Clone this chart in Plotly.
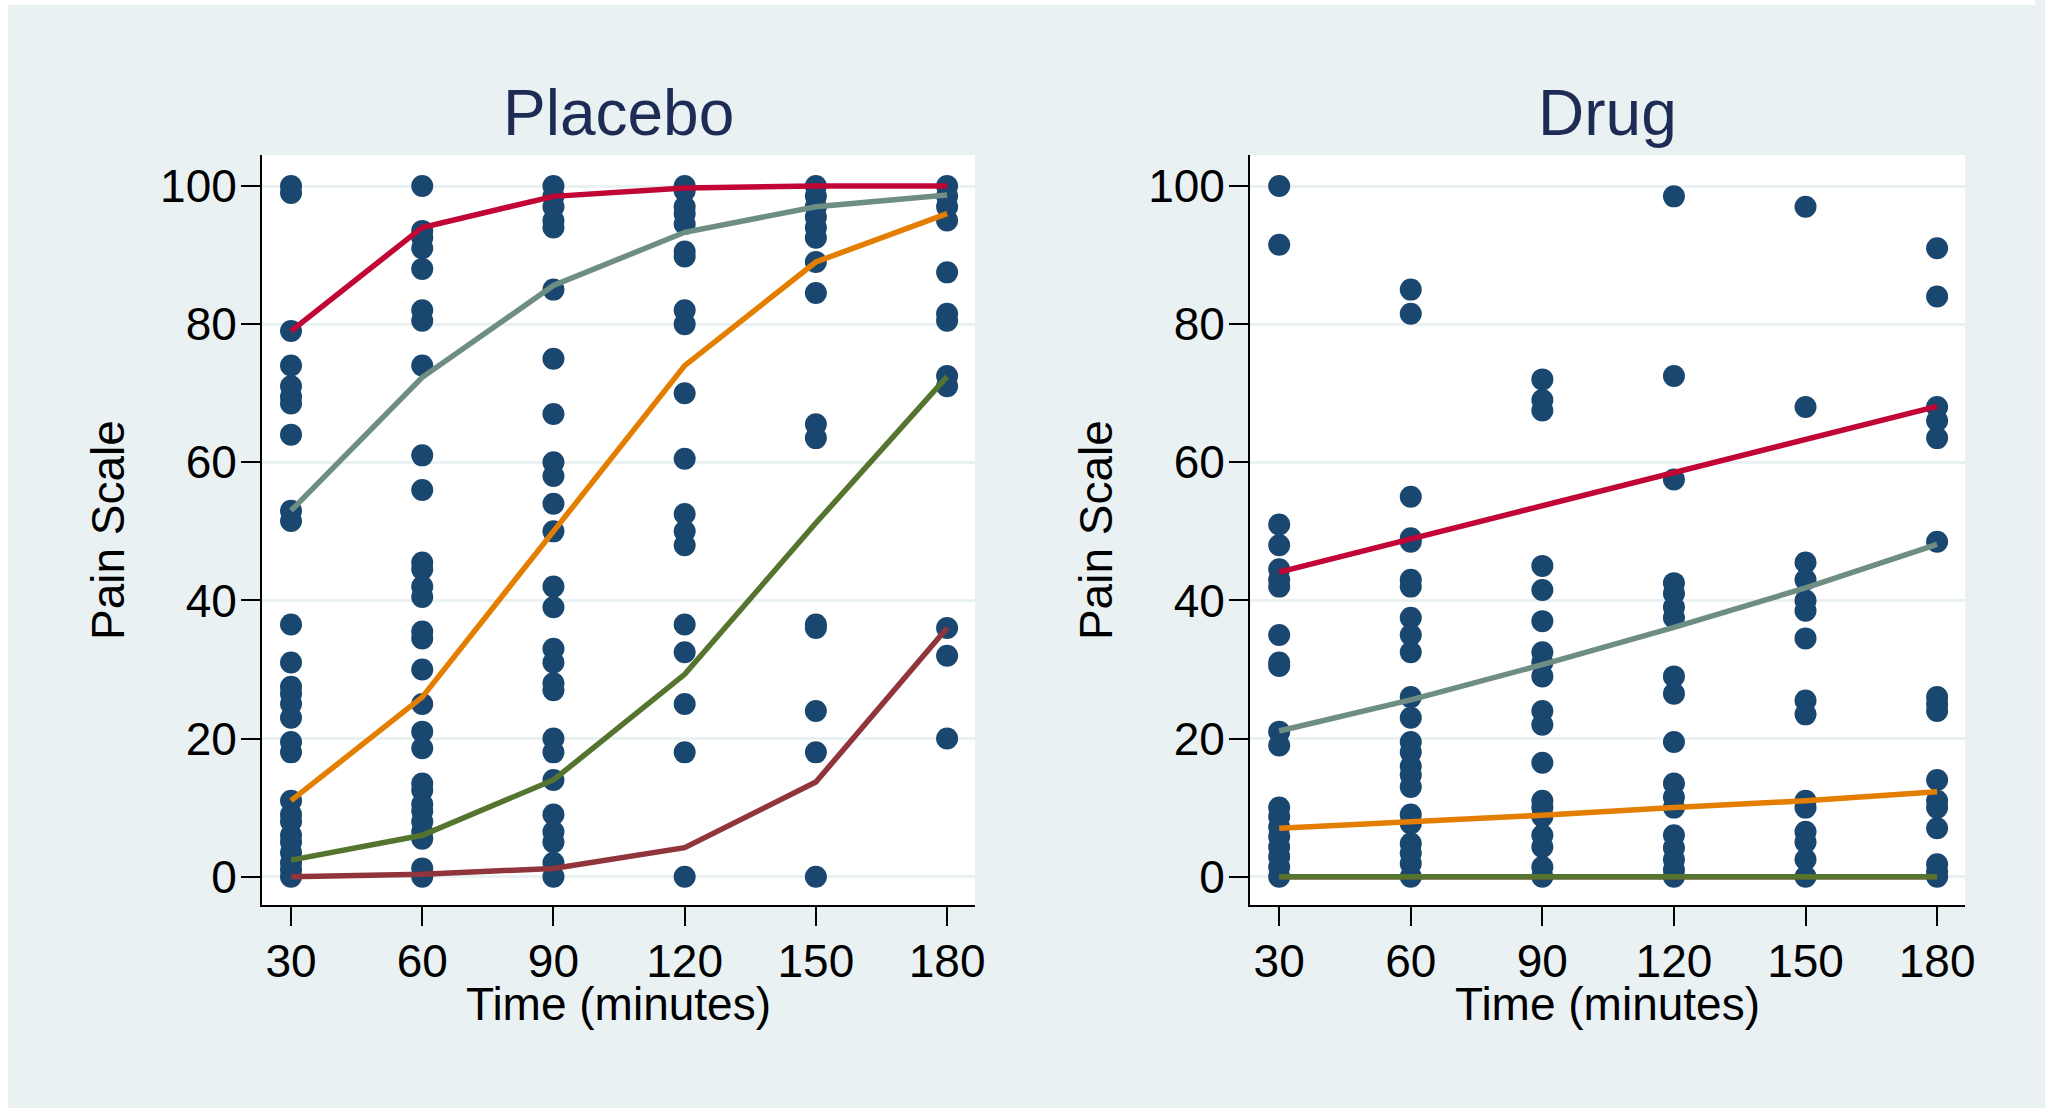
import plotly.graph_objects as go

# ---------------- data ----------------
times = [30, 60, 90, 120, 150, 180]
panel_titles = ["Placebo", "Drug"]
x_title = "Time (minutes)"
y_title = "Pain Scale"
y_ticks = [0, 20, 40, 60, 80, 100]

placebo_30 = [100, 99, 79, 74, 71, 69.5, 68.5, 64, 53, 51.5, 36.5, 31, 27.5, 26.5, 25, 23,
              19.5, 18, 11, 9, 8, 6, 5, 3.5, 2, 1, 0]
placebo_60 = [100, 93.5, 92.5, 91, 88, 82, 80.5, 74, 61, 56, 45.5, 44.5, 42, 40.5, 35.5, 34.5,
              30, 25, 21, 18.6, 13.5, 12.5, 10.5, 9.5, 8, 6.5, 5.5, 1.2, 0]
placebo_90 = [100, 98.5, 97, 95, 94, 85, 75, 67, 60, 58, 54, 50, 42, 39, 33, 31, 28, 27,
              20, 18, 14, 9, 6.5, 5, 2, 0]
placebo_120 = [100, 99.3, 97, 96, 94.5, 90.5, 89.8, 82, 80, 70, 60.5, 52.5, 50, 48, 36.5,
               32.5, 25, 18, 0]
placebo_150 = [100, 98.5, 97, 95.5, 94, 92.5, 89, 84.5, 65.5, 63.5, 36.5, 36, 24, 18, 0]
placebo_180 = [100, 98.5, 97, 95, 87.5, 81.5, 80.5, 72.5, 71, 36, 32, 20]

drug_30 = [100, 91.5, 51, 48, 44.5, 43, 42, 35, 31, 30.5, 21, 19, 10, 8.7, 7.2, 5.8, 4.3,
           2.9, 1.4, 0]
drug_60 = [85, 81.5, 55, 49, 48.5, 43, 42, 37.5, 35, 32.5, 26, 23, 19.5, 18, 16, 14.7, 13,
           9, 7.7, 4.8, 3.4, 1.9, 0]
drug_90 = [72, 69, 67.5, 45, 41.5, 37, 32.5, 31, 29, 24, 22, 16.5, 11, 10, 8.7, 6, 4.3, 1.4, 0]
drug_120 = [98.5, 72.5, 57.5, 42.5, 41, 39, 37.5, 29, 26.5, 19.5, 13.5, 11.5, 10, 6, 4.2,
            2.5, 1, 0]
drug_150 = [97, 68, 45.5, 43, 40, 38.5, 34.5, 25.5, 23.5, 11, 10, 6.5, 5, 2.5, 0]
drug_180 = [91, 84, 68, 66, 63.5, 48.5, 26, 25, 24, 14, 11, 10, 7, 1.8, 0.7, 0]

placebo_points = [placebo_30, placebo_60, placebo_90, placebo_120, placebo_150, placebo_180]
drug_points = [drug_30, drug_60, drug_90, drug_120, drug_150, drug_180]

# fitted trajectories (one line per group)
placebo_cranberry = [79, 94, 98.5, 99.7, 100, 100]
placebo_teal = [53, 72.3, 85.6, 93.3, 97, 98.7]
placebo_orange = [11, 26, 50, 74, 89, 96]
placebo_green = [2.4, 6, 14, 29.3, 51.2, 72.4]
placebo_maroon = [0, 0.35, 1.2, 4.2, 13.7, 36]

drug_cranberry = [44.1, 48.9, 53.8, 58.7, 63.4, 68.1]
drug_teal = [21.1, 25.6, 30.7, 36.1, 41.8, 48.1]
drug_orange = [7, 7.9, 8.9, 10, 11, 12.3]
drug_green = [0, 0, 0, 0, 0, 0]
drug_maroon = [0, 0, 0, 0, 0, 0]

placebo_lines = [placebo_maroon, placebo_green, placebo_orange, placebo_teal, placebo_cranberry]
drug_lines = [drug_maroon, drug_green, drug_orange, drug_teal, drug_cranberry]
line_order_colors = ["#90353B", "#55752F", "#E37E00", "#6E8E84", "#C10534"]

# ---------------- figure ----------------
W, H = 2045, 1108
XK = 1.005  # small horizontal compensation
BG = "#E9F1F3"
GRID = "#E9F1F3"
NAVY = "#1A476F"
FONT = "Liberation Sans, Arial, sans-serif"

fig = go.Figure()

def add_panel(points, lines, xa, ya):
    xs, ys = [], []
    for t, vals in zip(times, points):
        xs += [t] * len(vals)
        ys += vals
    fig.add_trace(go.Scatter(x=xs, y=ys, mode="markers", xaxis=xa, yaxis=ya,
                             marker=dict(color=NAVY, size=22, line=dict(width=0)),
                             showlegend=False, hoverinfo="x+y"))
    for vals, col in zip(lines, line_order_colors):
        fig.add_trace(go.Scatter(x=times, y=vals, mode="lines", xaxis=xa, yaxis=ya,
                                 line=dict(color=col, width=5.5),
                                 showlegend=False))

add_panel(placebo_points, placebo_lines, "x", "y")
add_panel(drug_points, drug_lines, "x2", "y2")

px = lambda v: min(1.0, v * XK / W)
py = lambda v: 1 - v / H

plot_top, plot_bot = 155, 905
dom_y = [py(plot_bot), py(plot_top)]
dom_x1 = [px(262), px(975)]
dom_x2 = [px(1250), px(1965)]

xcommon = dict(range=[23.37, 186.4], tickvals=times, showgrid=False, zeroline=False,
               showline=True, linecolor="black", linewidth=2,
               ticks="outside", ticklen=19, tickwidth=2, tickcolor="black",
               tickfont=dict(family=FONT, size=46, color="black"),
               ticklabelstandoff=-4, fixedrange=True)
ycommon = dict(range=[-4.1, 104.49], tickvals=y_ticks, showgrid=True, gridcolor=GRID,
               gridwidth=2.5, zeroline=False,
               showline=True, linecolor="black", linewidth=2,
               ticks="outside", ticklen=19, tickwidth=2, tickcolor="black",
               tickfont=dict(family=FONT, size=46, color="black"),
               ticklabelstandoff=-5, fixedrange=True)

fig.update_layout(
    width=W, height=H, autosize=False,
    margin=dict(l=0, r=0, t=0, b=0, pad=0),
    paper_bgcolor=BG, plot_bgcolor="white",
    xaxis=dict(domain=dom_x1, anchor="y", **xcommon),
    yaxis=dict(domain=dom_y, anchor="x", **ycommon),
    xaxis2=dict(domain=dom_x2, anchor="y2", **xcommon),
    yaxis2=dict(domain=dom_y, anchor="x2", **ycommon),
    showlegend=False,
    font=dict(family=FONT),
)

# white outer frame strips (left and top)
fig.add_shape(type="rect", xref="paper", yref="paper", x0=0, x1=px(8), y0=0, y1=1,
              fillcolor="white", line=dict(width=0), layer="below")
fig.add_shape(type="rect", xref="paper", yref="paper", x0=0, x1=1, y0=py(5), y1=1,
              fillcolor="white", line=dict(width=0), layer="below")

annos = []
for title, dom in zip(panel_titles, [dom_x1, dom_x2]):
    cx = (dom[0] + dom[1]) / 2
    annos.append(dict(text=title, x=cx, y=py(113), xref="paper", yref="paper",
                      xanchor="center", yanchor="middle", showarrow=False,
                      font=dict(family=FONT, size=64, color="#1E2C55")))
    annos.append(dict(text=x_title, x=cx, y=py(1004), xref="paper", yref="paper",
                      xanchor="center", yanchor="middle", showarrow=False,
                      font=dict(family=FONT, size=46, color="black")))
    annos.append(dict(text=y_title, x=dom[0] - px(154), y=py(530), xref="paper", yref="paper",
                      xanchor="center", yanchor="middle", textangle=-90, showarrow=False,
                      font=dict(family=FONT, size=46, color="black")))
fig.update_layout(annotations=annos)

fig.write_html("out.html")
